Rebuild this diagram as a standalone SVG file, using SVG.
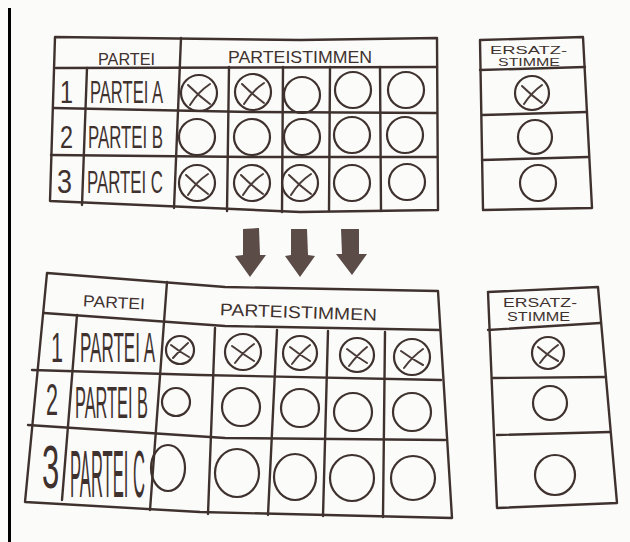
<svg xmlns="http://www.w3.org/2000/svg" width="630" height="542" viewBox="0 0 630 542">
<style>
.ln{fill:none;stroke:#3f322e;stroke-width:2.4;stroke-linecap:round;stroke-linejoin:round}
.c{fill:none;stroke:#3f322e;stroke-width:2.2}
.x{fill:none;stroke:#4a3c38;stroke-width:2;stroke-linecap:round}
.t{font-family:"Liberation Sans Narrow","Liberation Sans",Arial,sans-serif;fill:#3f322e}
.arr{fill:#5b4c48}
</style>
<rect width="630" height="542" fill="#fbfbfa"/>
<rect x="8" y="8" width="3" height="534" fill="#000"/>

<g id="top-table">
  <path class="ln" d="M55,37 L300,40 L437,38 L438,210 L300,212 L50,201 Z"/>
  <path class="ln" d="M56,68 L437,67 M53,108 L250,112 L437,113 M51,155 L250,157 L437,157"/>
  <path class="ln" d="M87,68 L82,205 M181,38 L174,208 M229,67 L227,211 M283,67 L282,212 M330,67 L329,211 M380,67 L381,211"/>
  <text class="t" x="98" y="65" font-size="16" textLength="57" lengthAdjust="spacingAndGlyphs">PARTEI</text>
  <text class="t" x="228" y="63" font-size="17" textLength="144" lengthAdjust="spacingAndGlyphs">PARTEISTIMMEN</text>
  <text class="t" x="60" y="103" font-size="32" textLength="13" lengthAdjust="spacingAndGlyphs">1</text>
  <text class="t" x="90" y="103" font-size="32" textLength="73" lengthAdjust="spacingAndGlyphs">PARTEI A</text>
  <text class="t" x="60" y="148" font-size="32" textLength="13" lengthAdjust="spacingAndGlyphs">2</text>
  <text class="t" x="88" y="148" font-size="32" textLength="75" lengthAdjust="spacingAndGlyphs">PARTEI B</text>
  <text class="t" x="57" y="193" font-size="34" textLength="15" lengthAdjust="spacingAndGlyphs">3</text>
  <text class="t" x="87" y="193" font-size="32" textLength="76" lengthAdjust="spacingAndGlyphs">PARTEI C</text>
  <circle class="c" cx="199" cy="93" r="18"/><circle class="c" cx="253" cy="92" r="18"/><circle class="c" cx="302" cy="95" r="18"/><circle class="c" cx="353" cy="90" r="18"/><circle class="c" cx="406" cy="90" r="18"/>
  <circle class="c" cx="197" cy="137" r="18"/><circle class="c" cx="252" cy="137" r="18"/><circle class="c" cx="302" cy="137" r="18"/><circle class="c" cx="352" cy="135" r="18"/><circle class="c" cx="405" cy="135" r="18"/>
  <circle class="c" cx="197" cy="183" r="18"/><circle class="c" cx="252" cy="183" r="18"/><circle class="c" cx="300" cy="183" r="18"/><circle class="c" cx="352" cy="183" r="18"/><circle class="c" cx="407" cy="182" r="18"/>
  <path class="x" d="M188,85 Q198,95 210,104 M210,84 Q198,92 190,105 M242,84 Q252,94 264,103 M264,83 Q252,91 244,104 M186,175 Q196,185 208,194 M208,174 Q196,182 188,195 M241,175 Q251,185 263,194 M263,174 Q251,182 243,195 M289,175 Q299,185 311,194 M311,174 Q299,182 291,195"/>
</g>

<g id="top-ersatz">
  <path class="ln" d="M480,40 L583,37 L592,208 L483,210 Z"/>
  <path class="ln" d="M480,70 L585,67 M482,115 L587,112 M482,160 L588,157"/>
  <text class="t" x="490" y="53.5" font-size="11" textLength="77" lengthAdjust="spacingAndGlyphs">ERSATZ-</text>
  <text class="t" x="498" y="66" font-size="11" textLength="62" lengthAdjust="spacingAndGlyphs">STIMME</text>
  <circle class="c" cx="532" cy="93" r="17"/><circle class="c" cx="535" cy="137" r="17"/><circle class="c" cx="538" cy="183" r="18"/>
  <path class="x" d="M522,86 Q531,95 542,103 M542,85 Q531,93 524,104"/>
</g>

<g id="connectors">
  <path class="arr" d="M243,229 L259,228 L260,255 L266,255 L250,277 L235,256 L243,255 Z"/>
  <path class="arr" d="M291,229 L307,229 L308,255 L315,256 L300,277 L285,256 L291,255 Z"/>
  <path class="arr" d="M341,229 L359,229 L359,254 L367,254 L352,275 L336,254 L342,254 Z"/>
</g>

<g id="bottom-table">
  <path class="ln" d="M47,273 L225,287 L438,291 L452,518 L200,512 L25,502 Z"/>
  <path class="ln" d="M44,313 L225,326 L440,330 M32,370 L200,375 L441,380 M28,425 L225,438 L445,440"/>
  <path class="ln" d="M77,315 L62,500 M167,282 L150,510 M215,328 L208,514 M277,330 L268,515 M328,331 L323,516 M385,332 L383,517"/>
  <text class="t" x="83" y="308" font-size="16" textLength="62" lengthAdjust="spacingAndGlyphs" transform="rotate(3 114 302)">PARTEI</text>
  <text class="t" x="220" y="318" font-size="17" textLength="157" lengthAdjust="spacingAndGlyphs" transform="rotate(2 298 312)">PARTEISTIMMEN</text>
  <text class="t" x="51" y="362" font-size="42" textLength="12" lengthAdjust="spacingAndGlyphs">1</text>
  <text class="t" x="80" y="362" font-size="42" textLength="75" lengthAdjust="spacingAndGlyphs">PARTEI A</text>
  <text class="t" x="46" y="415" font-size="44" textLength="12" lengthAdjust="spacingAndGlyphs">2</text>
  <text class="t" x="75" y="418" font-size="44" textLength="73" lengthAdjust="spacingAndGlyphs">PARTEI B</text>
  <text class="t" font-size="62" transform="translate(42,488) scale(0.5,1)">3</text>
  <text class="t" x="70" y="497" font-size="66" textLength="75" lengthAdjust="spacingAndGlyphs">PARTEI C</text>
  <circle class="c" cx="180" cy="350" r="14"/><circle class="c" cx="243" cy="352" r="18"/><circle class="c" cx="300" cy="353" r="17"/><circle class="c" cx="357" cy="355" r="17"/><circle class="c" cx="412" cy="357" r="18"/>
  <path class="x" d="M171,345 Q180,352 189,357 M188,343 Q180,350 173,358 M232,346 Q243,354 254,361 M254,344 Q243,352 235,363 M290,347 Q300,355 310,361 M310,345 Q300,353 292,364 M347,349 Q357,357 367,363 M367,347 Q357,355 349,366 M401,351 Q412,359 423,365 M423,349 Q412,357 404,368"/>
  <circle class="c" cx="176" cy="402" r="14"/><circle class="c" cx="241" cy="407" r="19"/><circle class="c" cx="300" cy="408" r="19"/><circle class="c" cx="353" cy="412" r="19"/><circle class="c" cx="412" cy="412" r="19"/>
  <ellipse class="c" cx="168" cy="468" rx="17" ry="23"/><ellipse class="c" cx="237" cy="473" rx="22" ry="24"/><ellipse class="c" cx="295" cy="477" rx="21" ry="23"/><ellipse class="c" cx="352" cy="478" rx="22" ry="23"/><ellipse class="c" cx="413" cy="478" rx="22" ry="22"/>
</g>

<g id="bottom-ersatz">
  <path class="ln" d="M488,292 L598,287 L617,503 L497,508 Z"/>
  <path class="ln" d="M488,330 L600,323 M493,378 L606,377 M497,435 L610,432"/>
  <text class="t" x="503" y="307" font-size="13" textLength="74" lengthAdjust="spacingAndGlyphs">ERSATZ-</text>
  <text class="t" x="507" y="321" font-size="13" textLength="63" lengthAdjust="spacingAndGlyphs">STIMME</text>
  <circle class="c" cx="548" cy="353" r="16"/><circle class="c" cx="550" cy="403" r="17"/><circle class="c" cx="555" cy="475" r="20"/>
  <path class="x" d="M538,347 Q547,355 558,361 M558,345 Q547,353 540,363"/>
</g>
</svg>
